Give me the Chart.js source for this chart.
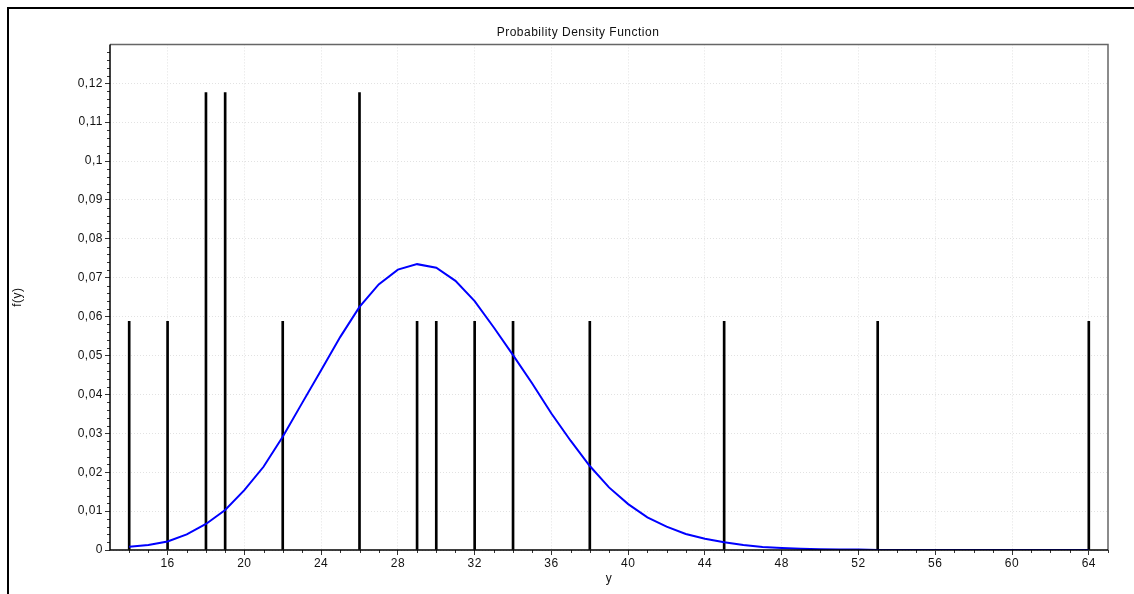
<!DOCTYPE html>
<html>
<head>
<meta charset="utf-8">
<script src="https://cdn.jsdelivr.net/npm/chart.js@4/dist/chart.umd.min.js"></script>
<style>
html, body { margin: 0; padding: 0; background: #fff; overflow: hidden; width: 1134px; height: 594px; }
#frame { position: absolute; left: 7px; top: 7px; width: 1200px; height: 700px; border-left: 2px solid #000; border-top: 2px solid #000; }
#wrap { position: absolute; left: 0; top: 0; width: 1156px; height: 594px; }
</style>
</head>
<body>
<div id="frame"></div>
<div id="wrap"><canvas id="chart"></canvas></div>
<script>
// observed sample values and their relative frequency (n = 17)
var sampleY    = [14, 16, 18, 19, 22, 26, 29, 30, 32, 34, 38, 45, 53, 64];
var sampleFreq = [0.0588, 0.0588, 0.1176, 0.1176, 0.0588, 0.1176, 0.0588, 0.0588, 0.0588, 0.0588, 0.0588, 0.0588, 0.0588, 0.0588];

// fitted density curve
var densityY = [14, 15, 16, 17, 18, 19, 20, 21, 22, 23, 24, 25, 26, 27, 28, 29, 30, 31, 32, 33, 34, 35, 36, 37, 38, 39,
	40, 41, 42, 43, 44, 45, 46, 47, 48, 49, 50, 51, 52, 53, 54, 55, 56, 57, 58, 59, 60, 61, 62, 63, 64];
var densityF = [0.00085, 0.0013, 0.0022, 0.0040, 0.0067, 0.0103, 0.0154, 0.0214, 0.0291, 0.0377, 0.0462, 0.0548, 0.0625,
	0.0683, 0.0721, 0.0735, 0.0726, 0.0692, 0.0640, 0.0572, 0.0501, 0.0428, 0.0351, 0.0281, 0.0216, 0.0161,
	0.0118, 0.0084, 0.0060, 0.0041, 0.0029, 0.0020, 0.0013, 0.0008, 0.0005, 0.0003, 0.0002, 0.0001, 0.0001,
	0, 0, 0, 0, 0, 0, 0, 0, 0, 0, 0, 0, 0];

var xTicks = [16, 20, 24, 28, 32, 36, 40, 44, 48, 52, 56, 60, 64];
var yTicks = [0, 0.01, 0.02, 0.03, 0.04, 0.05, 0.06, 0.07, 0.08, 0.09, 0.1, 0.11, 0.12];

var font = { family: "'Liberation Sans', Arial, sans-serif", size: 12 };

// the original text is set a little wider than canvas Arial
var spacingPlugin = {
	id: 'spacing',
	beforeLayout: function(chart) { chart.ctx.letterSpacing = '0.5px'; },
	beforeDraw: function(chart) { chart.ctx.letterSpacing = '0.5px'; }
};

// plot frame + minor ticks
var framePlugin = {
	id: 'frame',
	afterDatasetsDraw: function(chart) {
		var a = chart.chartArea, ctx = chart.ctx;
		var sx = chart.scales.x, sy = chart.scales.y;
		ctx.save();
		ctx.lineWidth = 1;
		ctx.strokeStyle = '#333';
		ctx.beginPath();
		for (var v = 14; v <= 65; v++) {
			if (v % 4 == 0) continue;
			var px = Math.round(sx.getPixelForValue(v)) + 0.5;
			ctx.moveTo(px, a.bottom);
			ctx.lineTo(px, a.bottom + 3);
		}
		for (var i = 1; i <= 65; i++) {
			if (i % 5 == 0) continue;
			var py = Math.round(sy.getPixelForValue(i * 0.002)) + 0.5;
			ctx.moveTo(a.left - 3, py);
			ctx.lineTo(a.left, py);
		}
		ctx.stroke();
		ctx.strokeStyle = '#666';
		ctx.lineWidth = 1.5;
		ctx.beginPath();
		ctx.moveTo(a.left, a.top);
		ctx.lineTo(a.right, a.top);
		ctx.lineTo(a.right, a.bottom);
		ctx.stroke();
		ctx.strokeStyle = '#000';
		ctx.beginPath();
		ctx.moveTo(a.left, a.top);
		ctx.lineTo(a.left, a.bottom);
		ctx.lineTo(a.right, a.bottom);
		ctx.stroke();
		ctx.restore();
	}
};

function pairs(xs, ys) {
	return xs.map(function(x, i) { return { x: x, y: ys[i] }; });
}

new Chart(document.getElementById('chart'), {
	type: 'bar',
	data: {
		datasets: [{
			type: 'line',
			label: 'density',
			data: pairs(densityY, densityF),
			borderColor: '#0000ff',
			borderWidth: 2,
			pointRadius: 0,
			tension: 0,
			fill: false,
			order: 0
		}, {
			type: 'bar',
			label: 'sample',
			data: pairs(sampleY, sampleFreq),
			backgroundColor: '#000',
			barThickness: 2,
			grouped: false,
			order: 1
		}]
	},
	options: {
		responsive: true,
		maintainAspectRatio: false,
		animation: false,
		layout: { padding: 0 },
		plugins: {
			legend: { display: false },
			tooltip: { enabled: false },
			title: {
				display: true,
				text: 'Probability Density Function',
				color: '#111',
				font: { family: font.family, size: 12, weight: 'normal' },
				padding: { top: 25, bottom: 5 }
			}
		},
		scales: {
			x: {
				type: 'linear',
				min: 13,
				max: 65,
				offset: false,
				afterBuildTicks: function(s) { s.ticks = xTicks.map(function(v) { return { value: v }; }); },
				afterFit: function(s) { s.height = 44; },
				grid: { color: '#e2e2e2', tickColor: '#333', tickLength: 5, offset: false },
				border: { display: false, dash: [1, 2] },
				ticks: { color: '#111', font: font, padding: 1, maxRotation: 0, autoSkip: false },
				title: { display: true, text: 'y', color: '#111', font: font, padding: { top: 0, bottom: 8 } }
			},
			y: {
				min: 0,
				max: 0.13,
				afterBuildTicks: function(s) { s.ticks = yTicks.map(function(v) { return { value: v }; }); },
				afterFit: function(s) { s.width = 110; },
				grid: { color: '#e2e2e2', tickColor: '#333', tickLength: 5 },
				border: { display: false, dash: [1, 2] },
				ticks: {
					color: '#111', font: font, padding: 2, autoSkip: false,
					callback: function(v) { return String(v).replace('.', ','); }
				},
				title: { display: true, text: 'f(y)', color: '#111', font: font, padding: { top: 10, bottom: 0 } }
			},
			// empty right-hand box so the plot ends before the title's centre line
			yRight: {
				position: 'right',
				display: true,
				grid: { display: false },
				border: { display: false },
				ticks: { display: false },
				afterFit: function(s) { s.width = 48; }
			}
		}
	},
	plugins: [spacingPlugin, framePlugin]
});
</script>
</body>
</html>
